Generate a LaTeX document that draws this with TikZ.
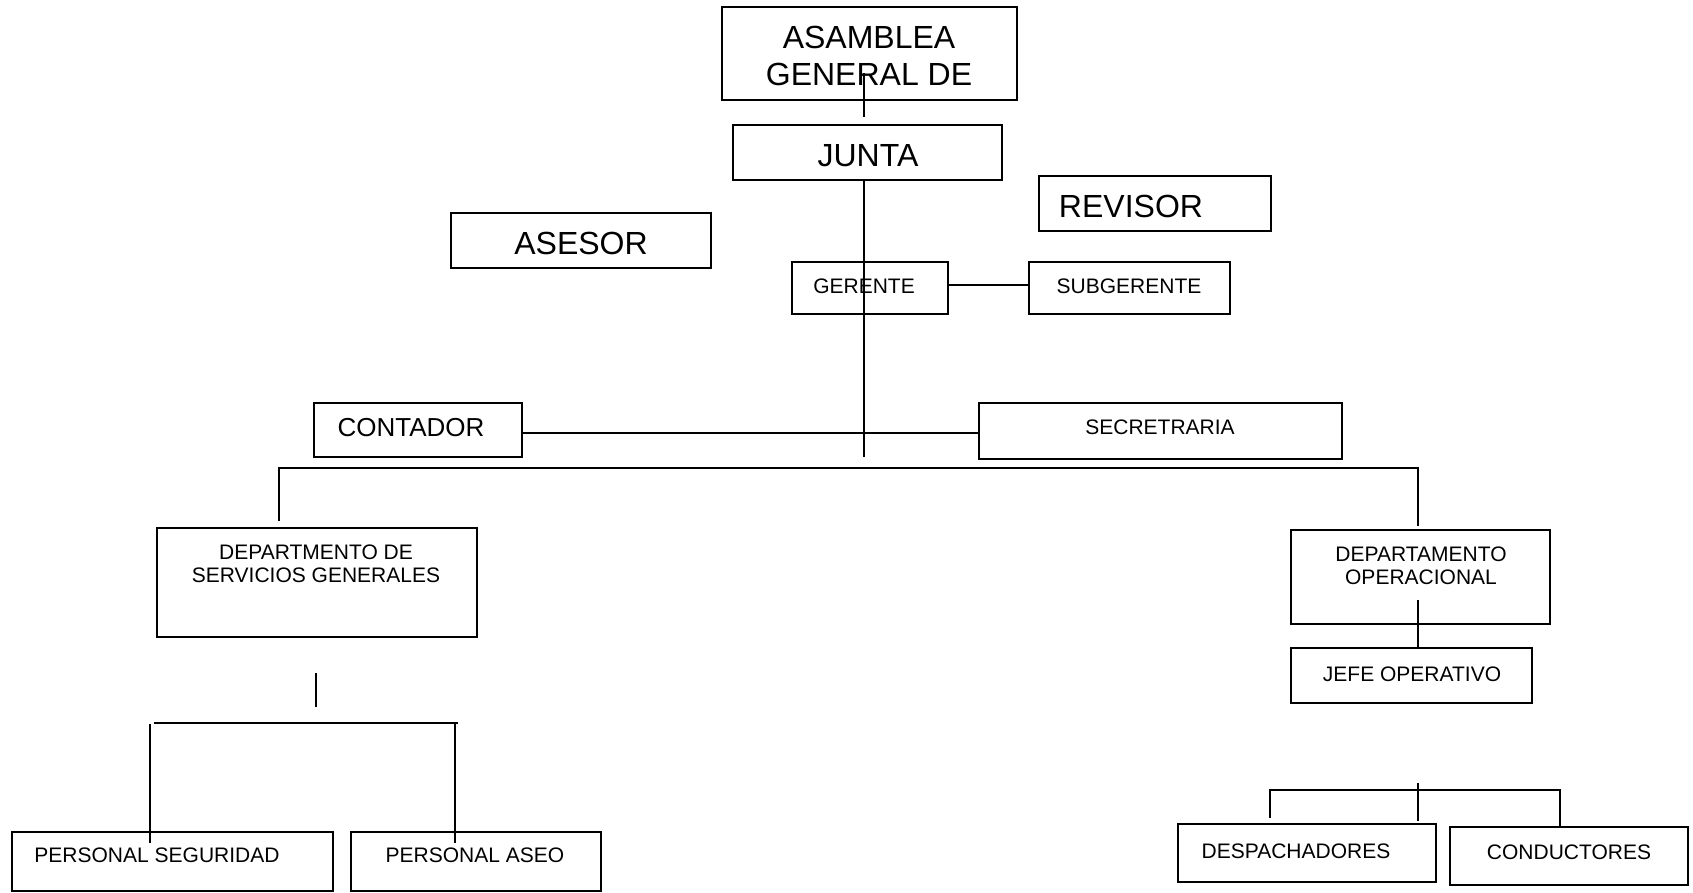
\documentclass[tikz,border=0pt]{standalone}
\usepackage{fontspec}
\setmainfont{Liberation Sans}
\usetikzlibrary{fit}
\begin{document}
\begin{tikzpicture}[x=0.5pt,y=-0.5pt,
  box/.style={draw, line width=1pt, inner sep=0pt, rectangle},
  conn/.style={line width=0.8pt},
  bigtxt/.style={font=\fontsize{16}{18.35}\selectfont, inner sep=0pt, align=center},
  midtxt/.style={font=\fontsize{13}{15}\selectfont, inner sep=0pt},
  smalltxt/.style={font=\fontsize{10.5}{11.5}\selectfont, inner sep=0pt, align=center}]
\useasboundingbox (0,0) rectangle (1693,893);

% boxes
\node[box, fit={(722,7) (1017,100)}] (asam) {};
\node[box, fit={(733,125) (1002,180)}] (junta) {};
\node[box, fit={(1039,176) (1271,231)}] (revisor) {};
\node[box, fit={(451,213) (711,268)}] (asesor) {};
\node[box, fit={(792,262) (948,314)}] (gerente) {};
\node[box, fit={(1029,262) (1230,314)}] (subgerente) {};
\node[box, fit={(314,403) (522,457)}] (contador) {};
\node[box, fit={(979,403) (1342,459)}] (secre) {};
\node[box, fit={(157,528) (477,637)}] (dsg) {};
\node[box, fit={(1291,530) (1550,624)}] (dop) {};
\node[box, fit={(1291,648) (1532,703)}] (jefe) {};
\node[box, fit={(12,832) (333,891)}] (pseg) {};
\node[box, fit={(351,832) (601,891)}] (paseo) {};
\node[box, fit={(1178,824) (1436,882)}] (desp) {};
\node[box, fit={(1450,827) (1688,885)}] (cond) {};

% texts
\node[bigtxt] (tasam) at (869,56) {ASAMBLEA\\GENERAL DE};
\node[bigtxt] (tjunta) at (868,156) {JUNTA};
\node[bigtxt] (trevisor) at (1131,206) {REVISOR};
\node[bigtxt] (tasesor) at (581,243) {ASESOR};
\node[smalltxt] (tgerente) at (864,286) {GERENTE};
\node[smalltxt] (tsub) at (1129,286) {SUBGERENTE};
\node[midtxt] (tcont) at (411,428) {CONTADOR};
\node[smalltxt] (tsecre) at (1160,427) {SECRETRARIA};
\node[smalltxt] (tdsg) at (316,564) {DEPARTMENTO DE\\SERVICIOS GENERALES};
\node[smalltxt] (tdop) at (1421,565.5) {DEPARTAMENTO\\OPERACIONAL};
\node[smalltxt] (tjefe) at (1412,674.5) {JEFE OPERATIVO};
\node[smalltxt] (tpseg) at (157,855) {PERSONAL SEGURIDAD};
\node[smalltxt] (tpaseo) at (475,855) {PERSONAL ASEO};
\node[smalltxt] (tdesp) at (1296,851) {DESPACHADORES};
\node[smalltxt] (tcond) at (1569,852) {CONDUCTORES};

% connector coordinates
\coordinate (a1) at (864,73);
\coordinate (a2) at (864,117);
\coordinate (mainbot) at (864,457);
\coordinate (gs) at (0,285);
\coordinate (cs) at (0,433);
\coordinate (busL) at (279,468);
\coordinate (busR) at (1418,468);
\coordinate (dropL) at (279,521);
\coordinate (dropR) at (1418,526);
\coordinate (dopin) at (1418,600);
\coordinate (s1) at (316,673);
\coordinate (s2) at (316,707);
\coordinate (b2L) at (154,723);
\coordinate (b2R) at (458,723);
\coordinate (v2La) at (150,724);
\coordinate (v2Lb) at (150,843);
\coordinate (v2Ra) at (455,724);
\coordinate (v2Rb) at (455,843);
\coordinate (b3L) at (1270,790);
\coordinate (b3R) at (1560,790);
\coordinate (b3Ld) at (1270,818);
\coordinate (m3a) at (1418,783);
\coordinate (m3b) at (1418,821);

% connectors
\draw[conn] (a1) -- (a2);
\draw[conn] (junta.south -| mainbot) -- (mainbot);
\draw[conn] (gerente.east |- gs) -- (subgerente.west |- gs);
\draw[conn] (contador.east |- cs) -- (secre.west |- cs);
\draw[conn] (dropL) -- (busL) -- (busR) -- (dropR);
\draw[conn] (dopin) -- (jefe.north -| dopin);
\draw[conn] (s1) -- (s2);
\draw[conn] (b2L) -- (b2R);
\draw[conn] (v2La) -- (v2Lb);
\draw[conn] (v2Ra) -- (v2Rb);
\draw[conn] (b3Ld) -- (b3L) -- (b3R) -- (cond.north -| b3R);
\draw[conn] (m3a) -- (m3b);
\end{tikzpicture}
\end{document}
